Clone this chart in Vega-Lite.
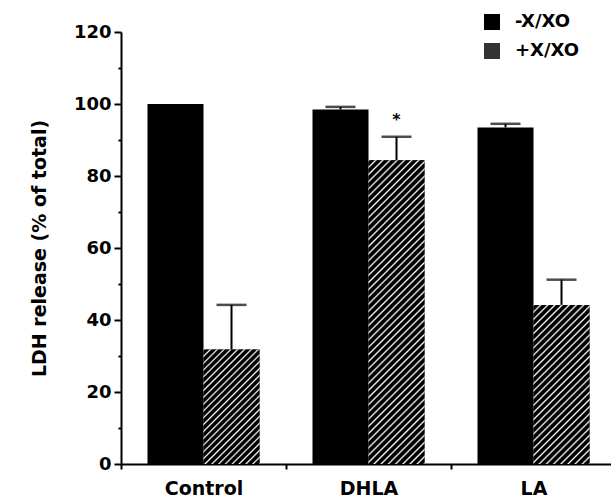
{
 "$schema": "https://vega.github.io/schema/vega-lite/v6.json",
 "width": 495, "height": 432,
 "autosize": {"type": "none"},
 "padding": {"left": 121, "top": 32, "right": 0, "bottom": 36},
 "background": "white",
 "config": {"view": {"stroke": null}, "font": "DejaVu Sans"},
 "datasets": {
  "bars": [
   {"cat": "Control", "group": "-X/XO", "value": 100, "upper": null},
   {"cat": "Control", "group": "+X/XO", "value": 31.8, "upper": 44.2},
   {"cat": "DHLA", "group": "-X/XO", "value": 98.5, "upper": 99.2},
   {"cat": "DHLA", "group": "+X/XO", "value": 84.4, "upper": 90.9},
   {"cat": "LA", "group": "-X/XO", "value": 93.5, "upper": 94.5},
   {"cat": "LA", "group": "+X/XO", "value": 44.2, "upper": 51.2}
  ],
  "marks": [{"cat": "DHLA", "group": "+X/XO", "y": 95.5, "label": "*"}]
 },
 "encoding": {
  "x": {"field": "cat", "type": "nominal", "sort": ["Control", "DHLA", "LA"],
   "scale": {"paddingInner": 0, "paddingOuter": 0},
   "axis": {"title": null, "labelAngle": 0, "tickBand": "extent", "tickSize": 5, "tickWidth": 2, "tickColor": "#000", "domainColor": "#000", "domainWidth": 2, "labelFontSize": 19, "labelFontWeight": "bold", "labelColor": "#000", "labelPadding": 10}},
  "xOffset": {"field": "group", "type": "nominal", "scale": {"domain": ["-X/XO", "+X/XO"], "paddingInner": 0, "paddingOuter": 0.473}},
  "y": {"field": "value", "type": "quantitative", "scale": {"domain": [0, 120], "nice": false},
   "axis": {"title": "LDH release (% of total)", "values": [0, 10, 20, 30, 40, 50, 60, 70, 80, 90, 100, 110, 120],
    "labelExpr": "datum.value % 20 === 0 ? datum.label : ''", "labelOverlap": false,
    "tickSize": {"condition": {"test": "datum.value % 20 === 0", "value": 7}, "value": 3},
    "tickWidth": 2, "tickColor": "#000", "domainWidth": 2, "domainColor": "#000", "grid": false,
    "labelFontSize": 18, "labelFontWeight": "bold", "labelColor": "#000", "labelPadding": 3,
    "titleFontSize": 19, "titleFontWeight": "bold", "titleColor": "#000", "titlePadding": 24}}
 },
 "layer": [
  {"data": {"name": "bars"}, "mark": {"type": "bar"},
   "encoding": {"color": {"field": "group", "type": "nominal", "scale": {"domain": ["-X/XO", "+X/XO"], "range": ["#000", "#333"]},
    "legend": {"title": null, "orient": "none", "legendX": 362, "legendY": -19, "symbolType": "square", "symbolSize": 256, "symbolStrokeWidth": 0,
     "labelFontSize": 18, "labelFontWeight": "bold", "labelColor": "#000", "labelFont": "DejaVu Sans", "labelOffset": 14, "rowPadding": 11, "padding": 0}}}},
  {"data": {"name": "bars"}, "transform": [{"filter": "datum.cat === 'Control' && datum.group === '+X/XO'"}],
   "mark": {"type": "bar", "fill": {"gradient": "linear", "x1": 0, "y1": 0, "x2": 0.588, "y2": 1.202, "stops": [
    {"offset":0,"color":"#fff"},{"offset":0.01,"color":"#000"},{"offset":0.03,"color":"#000"},
    {"offset":0.04,"color":"#fff"},{"offset":0.05,"color":"#000"},{"offset":0.07,"color":"#000"},
    {"offset":0.08,"color":"#fff"},{"offset":0.09,"color":"#000"},{"offset":0.11,"color":"#000"},
    {"offset":0.12,"color":"#fff"},{"offset":0.13,"color":"#000"},{"offset":0.15,"color":"#000"},
    {"offset":0.16,"color":"#fff"},{"offset":0.17,"color":"#000"},{"offset":0.19,"color":"#000"},
    {"offset":0.2,"color":"#fff"},{"offset":0.21,"color":"#000"},{"offset":0.23,"color":"#000"},
    {"offset":0.24,"color":"#fff"},{"offset":0.25,"color":"#000"},{"offset":0.27,"color":"#000"},
    {"offset":0.28,"color":"#fff"},{"offset":0.29,"color":"#000"},{"offset":0.31,"color":"#000"},
    {"offset":0.32,"color":"#fff"},{"offset":0.33,"color":"#000"},{"offset":0.35,"color":"#000"},
    {"offset":0.36,"color":"#fff"},{"offset":0.37,"color":"#000"},{"offset":0.39,"color":"#000"},
    {"offset":0.4,"color":"#fff"},{"offset":0.41,"color":"#000"},{"offset":0.43,"color":"#000"},
    {"offset":0.44,"color":"#fff"},{"offset":0.45,"color":"#000"},{"offset":0.47,"color":"#000"},
    {"offset":0.48,"color":"#fff"},{"offset":0.49,"color":"#000"},{"offset":0.51,"color":"#000"},
    {"offset":0.52,"color":"#fff"},{"offset":0.53,"color":"#000"},{"offset":0.55,"color":"#000"},
    {"offset":0.56,"color":"#fff"},{"offset":0.57,"color":"#000"},{"offset":0.59,"color":"#000"},
    {"offset":0.6,"color":"#fff"},{"offset":0.61,"color":"#000"},{"offset":0.63,"color":"#000"},
    {"offset":0.64,"color":"#fff"},{"offset":0.65,"color":"#000"},{"offset":0.67,"color":"#000"},
    {"offset":0.68,"color":"#fff"},{"offset":0.69,"color":"#000"},{"offset":0.71,"color":"#000"},
    {"offset":0.72,"color":"#fff"},{"offset":0.73,"color":"#000"},{"offset":0.75,"color":"#000"},
    {"offset":0.76,"color":"#fff"},{"offset":0.77,"color":"#000"},{"offset":0.79,"color":"#000"},
    {"offset":0.8,"color":"#fff"},{"offset":0.81,"color":"#000"},{"offset":0.83,"color":"#000"},
    {"offset":0.84,"color":"#fff"},{"offset":0.85,"color":"#000"},{"offset":0.87,"color":"#000"},
    {"offset":0.88,"color":"#fff"},{"offset":0.89,"color":"#000"},{"offset":0.91,"color":"#000"},
    {"offset":0.92,"color":"#fff"},{"offset":0.93,"color":"#000"},{"offset":0.95,"color":"#000"},
    {"offset":0.96,"color":"#fff"},{"offset":0.97,"color":"#000"},{"offset":0.99,"color":"#000"},
    {"offset":1,"color":"#fff"}]}}},
  {"data": {"name": "bars"}, "transform": [{"filter": "datum.cat === 'DHLA' && datum.group === '+X/XO'"}],
   "mark": {"type": "bar", "fill": {"gradient": "linear", "x1": 0, "y1": 0, "x2": 0.211, "y2": 1.145, "stops": [
    {"offset":0,"color":"#fff"},{"offset":0.005,"color":"#000"},{"offset":0.015,"color":"#000"},
    {"offset":0.02,"color":"#fff"},{"offset":0.025,"color":"#000"},{"offset":0.035,"color":"#000"},
    {"offset":0.04,"color":"#fff"},{"offset":0.045,"color":"#000"},{"offset":0.055,"color":"#000"},
    {"offset":0.06,"color":"#fff"},{"offset":0.065,"color":"#000"},{"offset":0.075,"color":"#000"},
    {"offset":0.08,"color":"#fff"},{"offset":0.085,"color":"#000"},{"offset":0.095,"color":"#000"},
    {"offset":0.1,"color":"#fff"},{"offset":0.105,"color":"#000"},{"offset":0.115,"color":"#000"},
    {"offset":0.12,"color":"#fff"},{"offset":0.125,"color":"#000"},{"offset":0.135,"color":"#000"},
    {"offset":0.14,"color":"#fff"},{"offset":0.145,"color":"#000"},{"offset":0.155,"color":"#000"},
    {"offset":0.16,"color":"#fff"},{"offset":0.165,"color":"#000"},{"offset":0.175,"color":"#000"},
    {"offset":0.18,"color":"#fff"},{"offset":0.185,"color":"#000"},{"offset":0.195,"color":"#000"},
    {"offset":0.2,"color":"#fff"},{"offset":0.205,"color":"#000"},{"offset":0.215,"color":"#000"},
    {"offset":0.22,"color":"#fff"},{"offset":0.225,"color":"#000"},{"offset":0.235,"color":"#000"},
    {"offset":0.24,"color":"#fff"},{"offset":0.245,"color":"#000"},{"offset":0.255,"color":"#000"},
    {"offset":0.26,"color":"#fff"},{"offset":0.265,"color":"#000"},{"offset":0.275,"color":"#000"},
    {"offset":0.28,"color":"#fff"},{"offset":0.285,"color":"#000"},{"offset":0.295,"color":"#000"},
    {"offset":0.3,"color":"#fff"},{"offset":0.305,"color":"#000"},{"offset":0.315,"color":"#000"},
    {"offset":0.32,"color":"#fff"},{"offset":0.325,"color":"#000"},{"offset":0.335,"color":"#000"},
    {"offset":0.34,"color":"#fff"},{"offset":0.345,"color":"#000"},{"offset":0.355,"color":"#000"},
    {"offset":0.36,"color":"#fff"},{"offset":0.365,"color":"#000"},{"offset":0.375,"color":"#000"},
    {"offset":0.38,"color":"#fff"},{"offset":0.385,"color":"#000"},{"offset":0.395,"color":"#000"},
    {"offset":0.4,"color":"#fff"},{"offset":0.405,"color":"#000"},{"offset":0.415,"color":"#000"},
    {"offset":0.42,"color":"#fff"},{"offset":0.425,"color":"#000"},{"offset":0.435,"color":"#000"},
    {"offset":0.44,"color":"#fff"},{"offset":0.445,"color":"#000"},{"offset":0.455,"color":"#000"},
    {"offset":0.46,"color":"#fff"},{"offset":0.465,"color":"#000"},{"offset":0.475,"color":"#000"},
    {"offset":0.48,"color":"#fff"},{"offset":0.485,"color":"#000"},{"offset":0.495,"color":"#000"},
    {"offset":0.5,"color":"#fff"},{"offset":0.505,"color":"#000"},{"offset":0.515,"color":"#000"},
    {"offset":0.52,"color":"#fff"},{"offset":0.525,"color":"#000"},{"offset":0.535,"color":"#000"},
    {"offset":0.54,"color":"#fff"},{"offset":0.545,"color":"#000"},{"offset":0.555,"color":"#000"},
    {"offset":0.56,"color":"#fff"},{"offset":0.565,"color":"#000"},{"offset":0.575,"color":"#000"},
    {"offset":0.58,"color":"#fff"},{"offset":0.585,"color":"#000"},{"offset":0.595,"color":"#000"},
    {"offset":0.6,"color":"#fff"},{"offset":0.605,"color":"#000"},{"offset":0.615,"color":"#000"},
    {"offset":0.62,"color":"#fff"},{"offset":0.625,"color":"#000"},{"offset":0.635,"color":"#000"},
    {"offset":0.64,"color":"#fff"},{"offset":0.645,"color":"#000"},{"offset":0.655,"color":"#000"},
    {"offset":0.66,"color":"#fff"},{"offset":0.665,"color":"#000"},{"offset":0.675,"color":"#000"},
    {"offset":0.68,"color":"#fff"},{"offset":0.685,"color":"#000"},{"offset":0.695,"color":"#000"},
    {"offset":0.7,"color":"#fff"},{"offset":0.705,"color":"#000"},{"offset":0.715,"color":"#000"},
    {"offset":0.72,"color":"#fff"},{"offset":0.725,"color":"#000"},{"offset":0.735,"color":"#000"},
    {"offset":0.74,"color":"#fff"},{"offset":0.745,"color":"#000"},{"offset":0.755,"color":"#000"},
    {"offset":0.76,"color":"#fff"},{"offset":0.765,"color":"#000"},{"offset":0.775,"color":"#000"},
    {"offset":0.78,"color":"#fff"},{"offset":0.785,"color":"#000"},{"offset":0.795,"color":"#000"},
    {"offset":0.8,"color":"#fff"},{"offset":0.805,"color":"#000"},{"offset":0.815,"color":"#000"},
    {"offset":0.82,"color":"#fff"},{"offset":0.825,"color":"#000"},{"offset":0.835,"color":"#000"},
    {"offset":0.84,"color":"#fff"},{"offset":0.845,"color":"#000"},{"offset":0.855,"color":"#000"},
    {"offset":0.86,"color":"#fff"},{"offset":0.865,"color":"#000"},{"offset":0.875,"color":"#000"},
    {"offset":0.88,"color":"#fff"},{"offset":0.885,"color":"#000"},{"offset":0.895,"color":"#000"},
    {"offset":0.9,"color":"#fff"},{"offset":0.905,"color":"#000"},{"offset":0.915,"color":"#000"},
    {"offset":0.92,"color":"#fff"},{"offset":0.925,"color":"#000"},{"offset":0.935,"color":"#000"},
    {"offset":0.94,"color":"#fff"},{"offset":0.945,"color":"#000"},{"offset":0.955,"color":"#000"},
    {"offset":0.96,"color":"#fff"},{"offset":0.965,"color":"#000"},{"offset":0.975,"color":"#000"},
    {"offset":0.98,"color":"#fff"},{"offset":0.985,"color":"#000"},{"offset":0.995,"color":"#000"},
    {"offset":1,"color":"#fff"}]}}},
  {"data": {"name": "bars"}, "transform": [{"filter": "datum.cat === 'LA' && datum.group === '+X/XO'"}],
   "mark": {"type": "bar", "fill": {"gradient": "linear", "x1": 0, "y1": 0, "x2": 0.423, "y2": 1.203, "stops": [
    {"offset":0,"color":"#fff"},{"offset":0.0083,"color":"#000"},{"offset":0.025,"color":"#000"},
    {"offset":0.0333,"color":"#fff"},{"offset":0.0417,"color":"#000"},{"offset":0.0583,"color":"#000"},
    {"offset":0.0667,"color":"#fff"},{"offset":0.075,"color":"#000"},{"offset":0.0917,"color":"#000"},
    {"offset":0.1,"color":"#fff"},{"offset":0.1083,"color":"#000"},{"offset":0.125,"color":"#000"},
    {"offset":0.1333,"color":"#fff"},{"offset":0.1417,"color":"#000"},{"offset":0.1583,"color":"#000"},
    {"offset":0.1667,"color":"#fff"},{"offset":0.175,"color":"#000"},{"offset":0.1917,"color":"#000"},
    {"offset":0.2,"color":"#fff"},{"offset":0.2083,"color":"#000"},{"offset":0.225,"color":"#000"},
    {"offset":0.2333,"color":"#fff"},{"offset":0.2417,"color":"#000"},{"offset":0.2583,"color":"#000"},
    {"offset":0.2667,"color":"#fff"},{"offset":0.275,"color":"#000"},{"offset":0.2917,"color":"#000"},
    {"offset":0.3,"color":"#fff"},{"offset":0.3083,"color":"#000"},{"offset":0.325,"color":"#000"},
    {"offset":0.3333,"color":"#fff"},{"offset":0.3417,"color":"#000"},{"offset":0.3583,"color":"#000"},
    {"offset":0.3667,"color":"#fff"},{"offset":0.375,"color":"#000"},{"offset":0.3917,"color":"#000"},
    {"offset":0.4,"color":"#fff"},{"offset":0.4083,"color":"#000"},{"offset":0.425,"color":"#000"},
    {"offset":0.4333,"color":"#fff"},{"offset":0.4417,"color":"#000"},{"offset":0.4583,"color":"#000"},
    {"offset":0.4667,"color":"#fff"},{"offset":0.475,"color":"#000"},{"offset":0.4917,"color":"#000"},
    {"offset":0.5,"color":"#fff"},{"offset":0.5083,"color":"#000"},{"offset":0.525,"color":"#000"},
    {"offset":0.5333,"color":"#fff"},{"offset":0.5417,"color":"#000"},{"offset":0.5583,"color":"#000"},
    {"offset":0.5667,"color":"#fff"},{"offset":0.575,"color":"#000"},{"offset":0.5917,"color":"#000"},
    {"offset":0.6,"color":"#fff"},{"offset":0.6083,"color":"#000"},{"offset":0.625,"color":"#000"},
    {"offset":0.6333,"color":"#fff"},{"offset":0.6417,"color":"#000"},{"offset":0.6583,"color":"#000"},
    {"offset":0.6667,"color":"#fff"},{"offset":0.675,"color":"#000"},{"offset":0.6917,"color":"#000"},
    {"offset":0.7,"color":"#fff"},{"offset":0.7083,"color":"#000"},{"offset":0.725,"color":"#000"},
    {"offset":0.7333,"color":"#fff"},{"offset":0.7417,"color":"#000"},{"offset":0.7583,"color":"#000"},
    {"offset":0.7667,"color":"#fff"},{"offset":0.775,"color":"#000"},{"offset":0.7917,"color":"#000"},
    {"offset":0.8,"color":"#fff"},{"offset":0.8083,"color":"#000"},{"offset":0.825,"color":"#000"},
    {"offset":0.8333,"color":"#fff"},{"offset":0.8417,"color":"#000"},{"offset":0.8583,"color":"#000"},
    {"offset":0.8667,"color":"#fff"},{"offset":0.875,"color":"#000"},{"offset":0.8917,"color":"#000"},
    {"offset":0.9,"color":"#fff"},{"offset":0.9083,"color":"#000"},{"offset":0.925,"color":"#000"},
    {"offset":0.9333,"color":"#fff"},{"offset":0.9417,"color":"#000"},{"offset":0.9583,"color":"#000"},
    {"offset":0.9667,"color":"#fff"},{"offset":0.975,"color":"#000"},{"offset":0.9917,"color":"#000"},
    {"offset":1,"color":"#fff"}]}}},
  {"data": {"name": "bars"}, "transform": [{"filter": "datum.upper != null"}],
   "mark": {"type": "rule", "color": "#000", "strokeWidth": 2},
   "encoding": {"y2": {"field": "upper"}}},
  {"data": {"name": "bars"}, "transform": [{"filter": "datum.upper != null"}],
   "mark": {"type": "tick", "color": "#000", "thickness": 2.5, "size": 30, "orient": "horizontal"},
   "encoding": {"y": {"field": "upper", "type": "quantitative"}}},
  {"data": {"name": "marks"},
   "mark": {"type": "text", "fontSize": 16, "fontWeight": "bold", "baseline": "middle", "color": "#000"},
   "encoding": {"y": {"field": "y", "type": "quantitative"}, "text": {"field": "label"}}}
 ]
}
